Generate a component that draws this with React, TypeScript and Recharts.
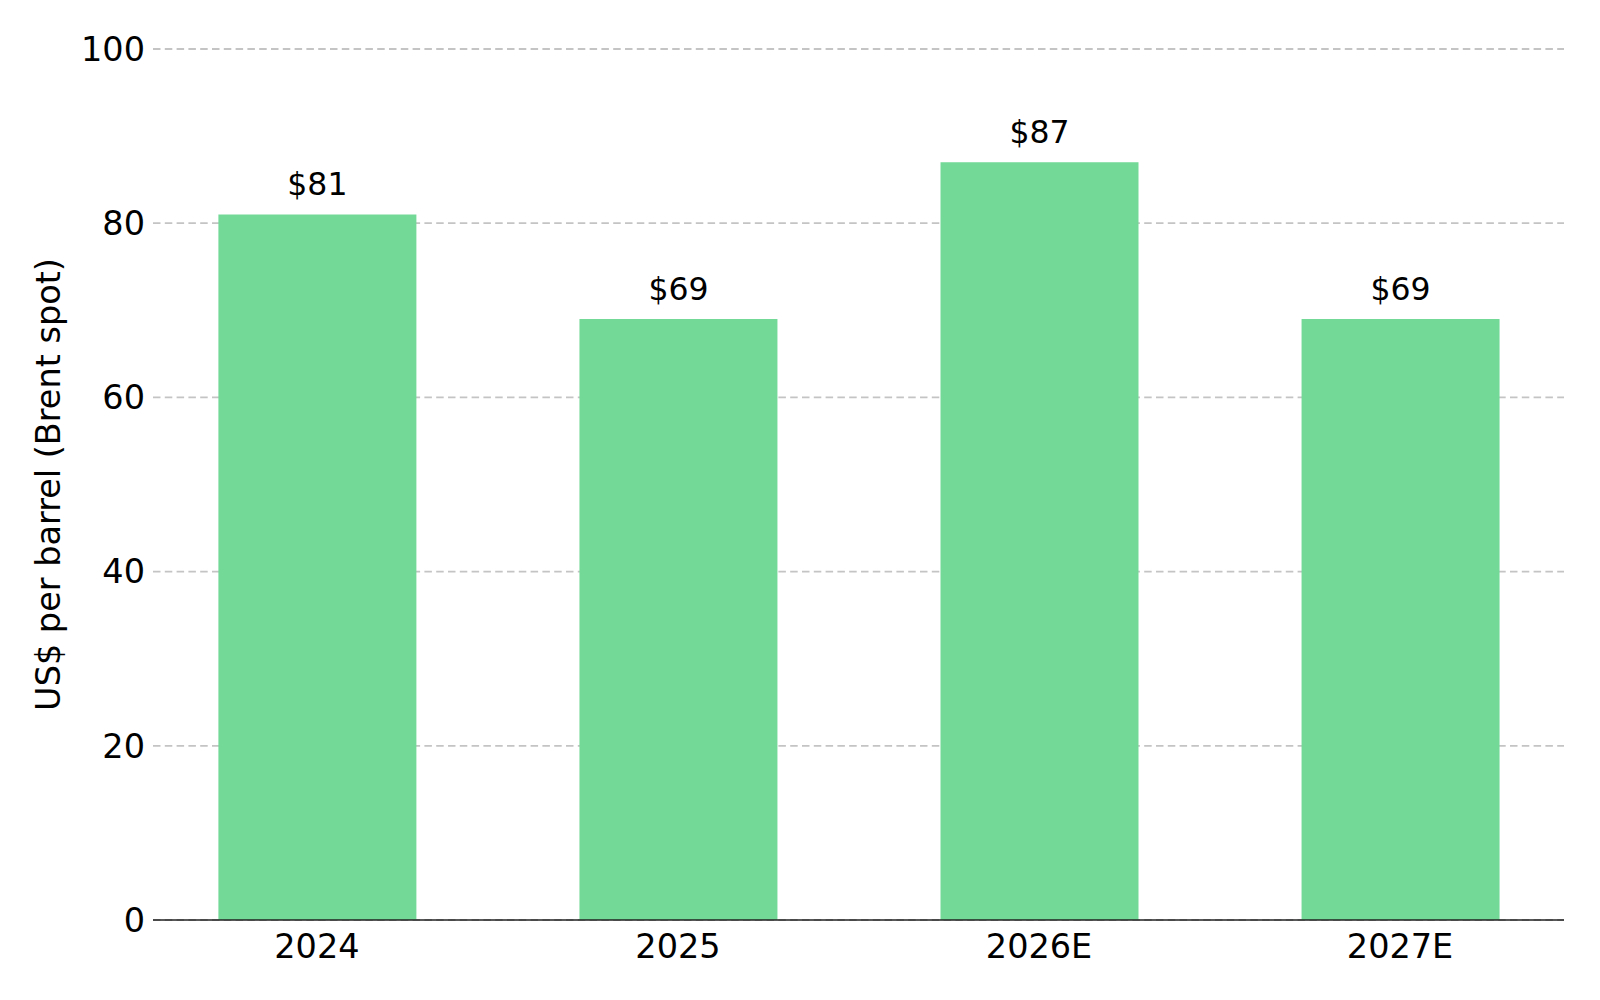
import React from 'react';
import { BarChart, Bar, XAxis, YAxis, CartesianGrid, LabelList } from 'recharts';

// ---------------------------------------------------------------------------
// Data
// ---------------------------------------------------------------------------

const YEARS = ['2024', '2025', '2026E', '2027E'];
const BRENT_PRICES = [81, 69, 87, 69];
const Y_TICKS = [0, 20, 40, 60, 80, 100];
const Y_LABEL = 'US$ per barrel (Brent spot)';

const chartData = YEARS.map((year, i) => ({ idx: i, year, price: BRENT_PRICES[i] }));

const FONT = '"DejaVu Sans", Verdana, sans-serif';
const BAR_COLOR = '#72d997';

function YAxisTitle({ viewBox }: { viewBox?: any }) {
  if (!viewBox) return null;
  const x = viewBox.x + 60;
  const y = viewBox.y + viewBox.height / 2;
  return (
    <text
      x={x}
      y={y}
      transform={`rotate(-90, ${x}, ${y})`}
      textAnchor="middle"
      fontFamily={FONT}
      fontSize={33.5}
      fill="#000"
    >
      {Y_LABEL}
    </text>
  );
}

export default function App() {
  return (
    <div style={{ position: 'absolute', left: 0, top: 0, width: 1600, height: 1000, background: '#fff' }}>
      <BarChart
        width={1600}
        height={1000}
        data={chartData}
        margin={{ top: 49, right: 36, bottom: 40, left: 0 }}
      >
        <CartesianGrid
          vertical={false}
          stroke="#c4c4c4"
          strokeDasharray="7.5 4.3"
          strokeWidth={1.8}
        />
        <XAxis
          dataKey="idx"
          type="number"
          domain={[-0.454, 3.454]}
          ticks={[0, 1, 2, 3]}
          tickFormatter={(v: number) => YEARS[v] ?? ''}
          allowDataOverflow
          height={40}
          tickLine={false}
          tickSize={6}
          tickMargin={8}
          axisLine={{ stroke: '#222', strokeWidth: 1.6 }}
          tick={{ fill: '#000', fontSize: 33.5, fontFamily: FONT }}
        />
        <YAxis
          type="number"
          domain={[0, 100]}
          ticks={Y_TICKS}
          width={153}
          tickLine={false}
          axisLine={false}
          tickSize={6}
          tickMargin={2}
          tick={{ fill: '#000', fontSize: 33.5, fontFamily: FONT }}
          label={<YAxisTitle />}
        />
        <Bar dataKey="price" fill={BAR_COLOR} barSize={198} isAnimationActive={false}>
          <LabelList
            dataKey="price"
            position="top"
            offset={19}
            formatter={(v: any) => `$${v}`}
            style={{ fill: '#000', fontSize: 31.5, fontFamily: FONT }}
          />
        </Bar>
      </BarChart>
    </div>
  );
}
